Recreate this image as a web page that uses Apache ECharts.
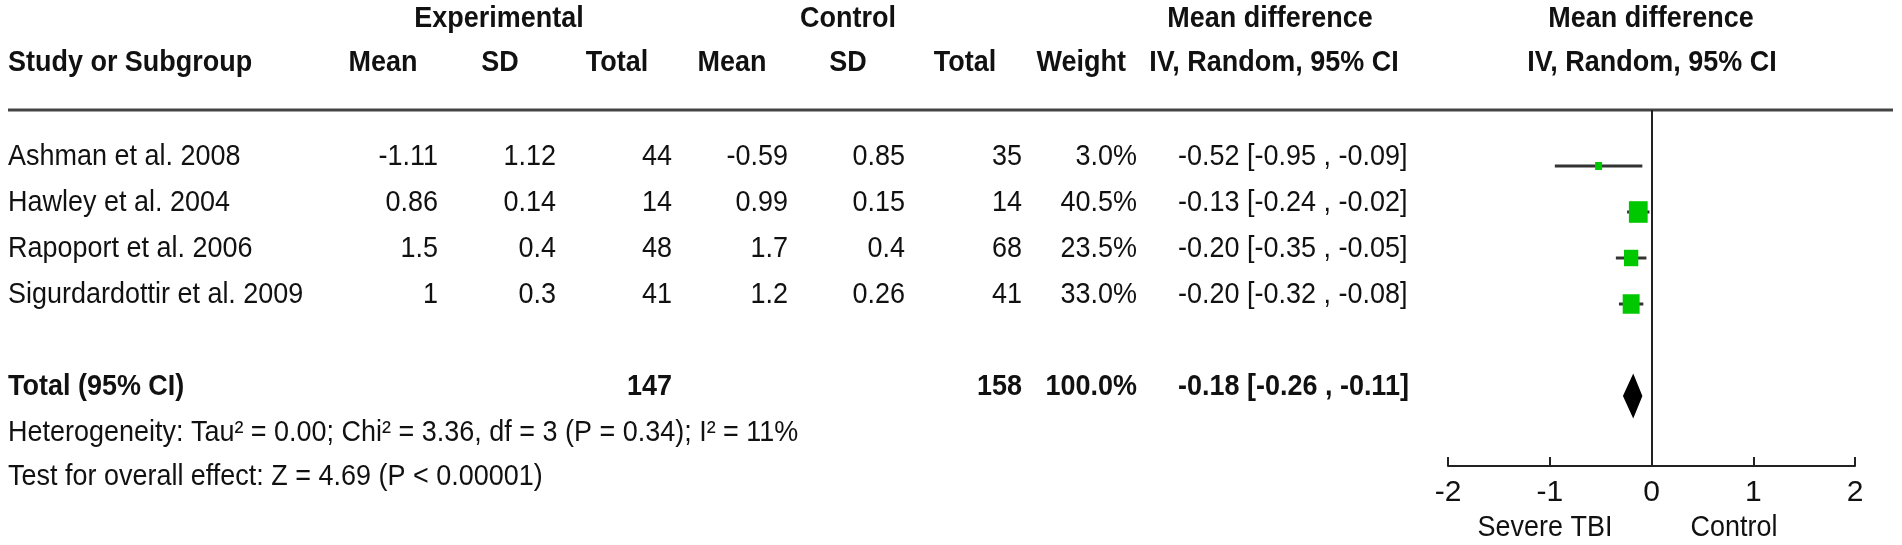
<!DOCTYPE html>
<html>
<head>
<meta charset="utf-8">
<script src="https://cdn.jsdelivr.net/npm/echarts@6/dist/echarts.min.js"></script>
<style>
  html, body { margin: 0; padding: 0; background: #fff; }
  #chart { width: 1902px; height: 545px; }
</style>
</head>
<body>
<div id="chart"></div>
<script>
// study rows
var studies = ['Ashman et al. 2008', 'Hawley et al. 2004', 'Rapoport et al. 2006', 'Sigurdardottir et al. 2009'];
var expMean = ['-1.11', '0.86', '1.5', '1'];
var expSD = ['1.12', '0.14', '0.4', '0.3'];
var expN = [44, 14, 48, 41];
var ctlMean = ['-0.59', '0.99', '1.7', '1.2'];
var ctlSD = ['0.85', '0.15', '0.4', '0.26'];
var ctlN = [35, 14, 68, 41];
var weights = [3.0, 40.5, 23.5, 33.0];
var md = [-0.52, -0.13, -0.20, -0.20];
var ciLow = [-0.95, -0.24, -0.35, -0.32];
var ciHigh = [-0.09, -0.02, -0.05, -0.08];

// pooled result
var totalExpN = 147;
var totalCtlN = 158;
var totalWeight = 100.0;
var totalMd = -0.18;
var totalLow = -0.26;
var totalHigh = -0.11;
var totalRow = 5;

var xTicks = [-2, -1, 0, 1, 2];
var heterogeneity = 'Heterogeneity: Tau\u00b2 = 0.00; Chi\u00b2 = 3.36, df = 3 (P = 0.34); I\u00b2 = 11%';
var overallTest = 'Test for overall effect: Z = 4.69 (P < 0.00001)';

var FONT = '"Liberation Sans", Arial, sans-serif';
var myChart = echarts.init(document.getElementById('chart'));

// text in the source is a little narrow, so draw it taller and squeeze it
function txt(x, y, s, align, bold) {
    return {
        type: 'text', x: x, y: y, scaleX: 0.93, silent: true,
        style: {
            text: s, fill: '#111', align: align, verticalAlign: 'middle',
            font: (bold ? 'bold ' : '') + '29px ' + FONT
        }
    };
}
function rowY(i) { return 157 + 46 * i; }
function ci(m, lo, hi) {
    return m.toFixed(2) + ' [' + lo.toFixed(2) + ' , ' + hi.toFixed(2) + ']';
}

var g = [];
// header
g.push(txt(499, 19, 'Experimental', 'center', true));
g.push(txt(848, 19, 'Control', 'center', true));
g.push(txt(1270, 19, 'Mean difference', 'center', true));
g.push(txt(1651, 19, 'Mean difference', 'center', true));
g.push(txt(8, 63, 'Study or Subgroup', 'left', true));
g.push(txt(383, 63, 'Mean', 'center', true));
g.push(txt(500, 63, 'SD', 'center', true));
g.push(txt(617, 63, 'Total', 'center', true));
g.push(txt(732, 63, 'Mean', 'center', true));
g.push(txt(848, 63, 'SD', 'center', true));
g.push(txt(965, 63, 'Total', 'center', true));
g.push(txt(1126, 63, 'Weight', 'right', true));
g.push(txt(1274, 63, 'IV, Random, 95% CI', 'center', true));
g.push(txt(1652, 63, 'IV, Random, 95% CI', 'center', true));
g.push({
    type: 'line', silent: true,
    shape: {x1: 8, y1: 110, x2: 1893, y2: 110},
    style: {stroke: '#444', lineWidth: 3}
});

// study rows
for (var i = 0; i < studies.length; i++) {
    var y = rowY(i);
    g.push(txt(8, y, studies[i], 'left'));
    g.push(txt(438, y, expMean[i], 'right'));
    g.push(txt(556, y, expSD[i], 'right'));
    g.push(txt(672, y, String(expN[i]), 'right'));
    g.push(txt(788, y, ctlMean[i], 'right'));
    g.push(txt(905, y, ctlSD[i], 'right'));
    g.push(txt(1022, y, String(ctlN[i]), 'right'));
    g.push(txt(1137, y, weights[i].toFixed(1) + '%', 'right'));
    g.push(txt(1178, y, ci(md[i], ciLow[i], ciHigh[i]), 'left'));
}

// total + footer
var ty = rowY(totalRow);
g.push(txt(8, ty, 'Total (95% CI)', 'left', true));
g.push(txt(672, ty, String(totalExpN), 'right', true));
g.push(txt(1022, ty, String(totalCtlN), 'right', true));
g.push(txt(1137, ty, totalWeight.toFixed(1) + '%', 'right', true));
g.push(txt(1178, ty, ci(totalMd, totalLow, totalHigh), 'left', true));
g.push(txt(8, 433, heterogeneity, 'left'));
g.push(txt(8, 477, overallTest, 'left'));
g.push(txt(1545, 528, 'Severe TBI', 'center'));
g.push(txt(1734, 528, 'Control', 'center'));

var ciData = [], boxData = [];
for (var j = 0; j < studies.length; j++) {
    ciData.push([ciLow[j], ciHigh[j], j]);
    boxData.push([md[j], j, weights[j]]);
}

var option = {
    animation: false,
    graphic: g,
    grid: {left: 1448, right: 47, top: 110, bottom: 79},
    xAxis: {
        type: 'value', min: -2, max: 2, interval: 1,
        axisLine: {onZero: false, lineStyle: {color: '#222', width: 2}},
        axisTick: {inside: true, length: 9, lineStyle: {color: '#222', width: 2}},
        axisLabel: {
            fontSize: 30, fontFamily: FONT, color: '#111', margin: 12,
            formatter: function (v) { return xTicks.indexOf(v) >= 0 ? String(v) : ''; }
        },
        splitLine: {show: false}
    },
    yAxis: {
        type: 'value', inverse: true, show: false,
        min: -56 / 46, max: -56 / 46 + 356 / 46
    },
    series: [
        {
            type: 'custom',
            data: ciData,
            renderItem: function (params, api) {
                var a = api.coord([api.value(0), api.value(2)]);
                var b = api.coord([api.value(1), api.value(2)]);
                return {
                    type: 'line',
                    shape: {x1: a[0], y1: a[1], x2: b[0], y2: b[1]},
                    style: {stroke: '#333', lineWidth: 3}
                };
            },
            markLine: {
                silent: true, symbol: 'none', label: {show: false},
                lineStyle: {color: '#222', width: 2, type: 'solid'},
                data: [{xAxis: 0}]
            }
        },
        {
            type: 'scatter',
            data: boxData,
            symbol: 'rect',
            symbolSize: function (v) {
                var s = Math.max(7, 2.95 * Math.sqrt(v[2]));
                return [s, s * 1.15];
            },
            itemStyle: {color: '#00c800', opacity: 1}
        },
        {
            type: 'custom',
            data: [[totalLow, totalMd, totalHigh, totalRow]],
            renderItem: function (params, api) {
                var row = api.value(3);
                var l = api.coord([api.value(0), row]);
                var m = api.coord([api.value(1), row]);
                var r = api.coord([api.value(2), row]);
                return {
                    type: 'polygon',
                    shape: {points: [[l[0] - 1, l[1]], [m[0], m[1] - 20], [r[0] + 1, r[1]], [m[0], m[1] + 20]]},
                    style: {fill: '#000', stroke: '#000', lineWidth: 2, lineJoin: 'miter'}
                };
            }
        }
    ]
};
myChart.setOption(option);
</script>
</body>
</html>
